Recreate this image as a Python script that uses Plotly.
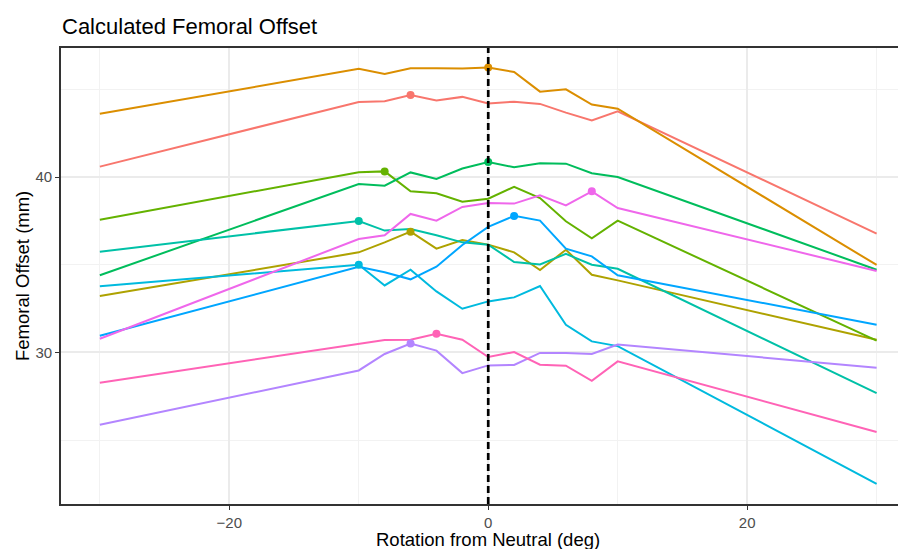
import numpy as np
import plotly.graph_objects as go

rotation = [-30, -10, -8, -6, -4, -2, 0, 2, 4, 6, 8, 10, 30]

series_names = ["S01", "S02", "S03", "S04", "S05", "S06", "S07", "S08", "S09", "S10", "S11"]
series_colors = ["#F8766D", "#DB8E00", "#AEA200", "#64B200", "#00BD5C", "#00C1A7",
                 "#00BADE", "#00A6FF", "#B385FF", "#EF67EB", "#FF63B6"]

s01 = [40.60, 44.29, 44.33, 44.69, 44.38, 44.58, 44.20, 44.31, 44.18, 43.68, 43.24, 43.76, 36.78]
s02 = [43.62, 46.18, 45.89, 46.22, 46.21, 46.20, 46.26, 46.00, 44.88, 45.01, 44.14, 43.91, 34.99]
s03 = [33.22, 35.71, 36.28, 36.89, 35.92, 36.41, 36.15, 35.71, 34.70, 35.86, 34.43, 34.11, 30.72]
s04 = [37.57, 40.28, 40.33, 39.19, 39.08, 38.60, 38.77, 39.45, 38.81, 37.48, 36.51, 37.52, 30.67]
s05 = [34.40, 39.61, 39.51, 40.27, 39.90, 40.49, 40.87, 40.56, 40.79, 40.77, 40.22, 40.01, 34.72]
s06 = [35.75, 37.50, 36.95, 37.04, 36.68, 36.28, 36.15, 35.16, 35.02, 35.62, 35.00, 34.77, 27.68]
s07 = [33.77, 35.00, 33.82, 34.72, 33.48, 32.49, 32.91, 33.14, 33.79, 31.58, 30.63, 30.36, 22.50]
s08 = [30.95, 34.88, 34.57, 34.17, 34.89, 36.13, 37.16, 37.79, 37.52, 35.92, 35.48, 34.40, 31.58]
s09 = [25.87, 28.97, 29.91, 30.51, 30.10, 28.82, 29.26, 29.28, 29.97, 29.97, 29.91, 30.45, 29.13]
s10 = [30.78, 36.47, 36.68, 37.90, 37.52, 38.30, 38.53, 38.49, 38.96, 38.39, 39.19, 38.24, 34.65]
s11 = [28.27, 30.48, 30.71, 30.72, 31.07, 30.72, 29.74, 30.02, 29.30, 29.24, 28.38, 29.49, 25.46]

all_series = [s01, s02, s03, s04, s05, s06, s07, s08, s09, s10, s11]

x_ticks = [-20, 0, 20]
y_ticks = [30, 40]

FONT = "Liberation Sans, Arial, sans-serif"

# the page body has an 8px margin, so the figure is sized/offset to compensate
W, H = 898, 541
ML, MT, MB = 53, 40, 44.7
PW = W - ML
PH = H - MT - MB

fig = go.Figure()

for name, col, vals in zip(series_names, series_colors, all_series):
    fig.add_trace(go.Scatter(x=rotation, y=vals, mode="lines", name=name,
                             line=dict(color=col, width=2), showlegend=False,
                             hoverinfo="skip"))

for name, col, vals in zip(series_names, series_colors, all_series):
    i = int(np.argmax(vals))
    fig.add_trace(go.Scatter(x=[rotation[i]], y=[vals[i]], mode="markers", name=name,
                             marker=dict(color=col, size=8), showlegend=False))

fig.add_vline(x=0, line=dict(color="black", width=2.7, dash="7px,4px"), layer="above")

axis_common = dict(
    showline=True, linecolor="#333333", linewidth=1.6,
    ticks="outside", ticklen=4, tickwidth=1.3, tickcolor="#333333",
    tickfont=dict(family=FONT, size=15, color="#4D4D4D"),
    showgrid=True, gridcolor="#EBEBEB", gridwidth=1.6,
    zeroline=False,
)

fig.update_xaxes(range=[-33, 32.27], tickvals=x_ticks, mirror=True,
                 minor=dict(tickvals=[-30, -10, 10, 30], showgrid=True,
                            gridcolor="#F2F2F2", gridwidth=1, ticks=""),
                 **axis_common)
fig.update_yaxes(range=[21.35, 47.37], tickvals=y_ticks,
                 minor=dict(tickvals=[25, 35, 45], showgrid=True,
                            gridcolor="#F2F2F2", gridwidth=1, ticks=""),
                 **axis_common)

fig.update_layout(
    width=W, height=H,
    margin=dict(l=ML, r=0, t=MT, b=MB),
    paper_bgcolor="white", plot_bgcolor="white",
    font=dict(family=FONT),
    title=dict(text="Calculated Femoral Offset", x=(62 - 8) / W, xanchor="left",
               y=1 - (26 - 8) / H, yanchor="middle", yref="container", xref="container",
               font=dict(family=FONT, size=22, color="black")),
    annotations=[
        dict(text="Femoral Offset (mm)", xref="paper", yref="paper",
             x=(14 - ML) / PW, y=0.5, textangle=-90, showarrow=False,
             xanchor="center", yanchor="middle",
             font=dict(family=FONT, size=18.5, color="black")),
        dict(text="Rotation from Neutral (deg)", xref="paper", yref="paper",
             x=(480 - ML) / PW, y=((H - MB) - 531.5) / PH, showarrow=False,
             xanchor="center", yanchor="middle",
             font=dict(family=FONT, size=18.5, color="black")),
    ],
)

fig.write_html("out.html")
